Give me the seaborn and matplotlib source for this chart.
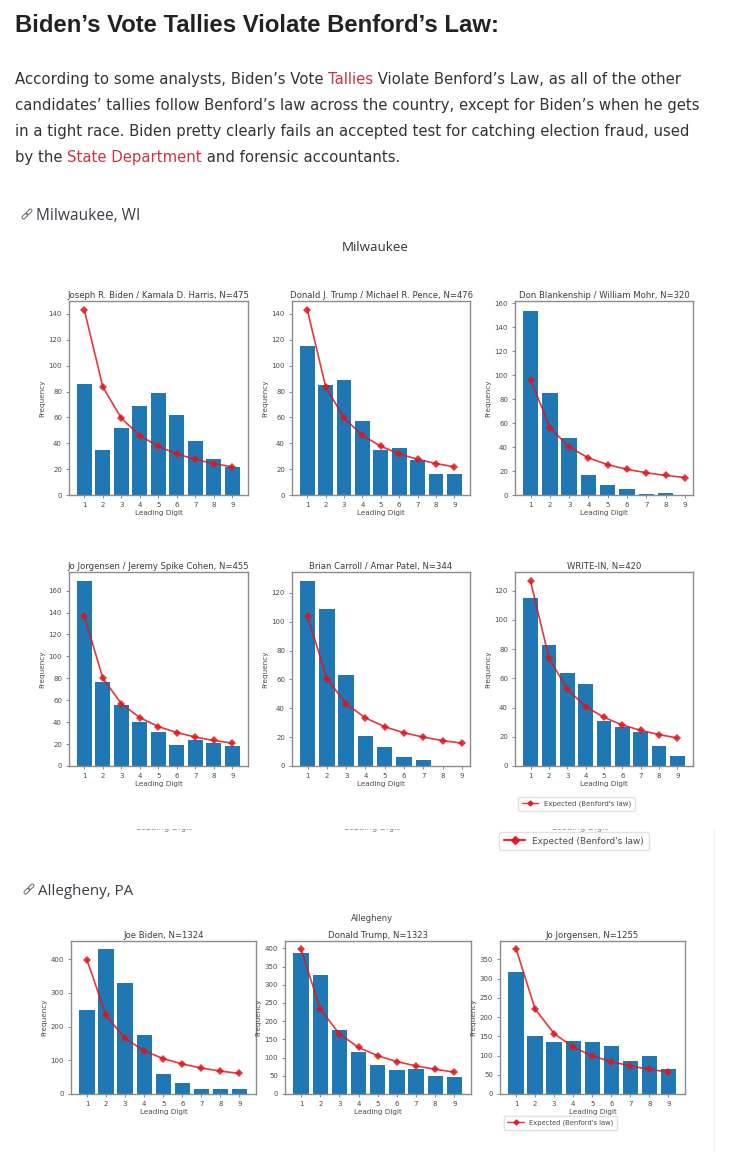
import matplotlib
matplotlib.use("Agg")
import matplotlib.pyplot as plt
import seaborn as sns
from matplotlib.lines import Line2D
from matplotlib.patches import FancyBboxPatch
from matplotlib.transforms import Bbox, Affine2D

WIDTH, HEIGHT = 730, 1162

digits = [1, 2, 3, 4, 5, 6, 7, 8, 9]

# Milwaukee
biden_wi = [86, 35, 52, 69, 79, 62, 42, 28, 22]
biden_wi_exp = [143, 83.6, 59.3, 46, 37.6, 31.8, 27.5, 24.3, 21.7]
trump_wi = [115, 85, 89, 57, 35, 36, 27, 16, 16]
trump_wi_exp = [143.3, 83.8, 59.5, 46.1, 37.7, 31.8, 27.6, 24.3, 21.8]
blankenship_wi = [154, 85, 48, 17, 8, 5, 1, 2, 0]
blankenship_wi_exp = [96.3, 56.3, 40, 31, 25.3, 21.4, 18.6, 16.3, 14.6]
jorgensen_wi = [169, 77, 56, 40, 31, 19, 24, 21, 18]
jorgensen_wi_exp = [137, 80.1, 56.9, 44.1, 36, 30.5, 26.4, 23.3, 20.8]
carroll_wi = [128, 109, 63, 21, 13, 6, 4, 0, 0]
carroll_wi_exp = [103.6, 60.6, 43, 33.3, 27.2, 23, 20, 17.6, 15.8]
writein_wi = [115, 83, 64, 56, 31, 27, 23, 14, 7]
writein_wi_exp = [126.4, 74, 52.5, 40.7, 33.3, 28.1, 24.4, 21.5, 19.2]

# Allegheny
biden_pa = [249, 430, 328, 174, 59, 33, 15, 15, 15]
biden_pa_exp = [398, 233, 165, 128, 105, 89, 77, 68, 61]
trump_pa = [388, 326, 175, 116, 80, 66, 70, 50, 48]
trump_pa_exp = [398, 233, 165, 128, 105, 89, 77, 68, 60]
jorgensen_pa = [316, 150, 135, 137, 135, 125, 86, 99, 66]
jorgensen_pa_exp = [378, 221, 157, 122, 99, 84, 73, 64, 57]

titles = [
    "Joseph R. Biden / Kamala D. Harris, N=475",
    "Donald J. Trump / Michael R. Pence, N=476",
    "Don Blankenship / William Mohr, N=320",
    "Jo Jorgensen / Jeremy Spike Cohen, N=455",
    "Brian Carroll / Amar Patel, N=344",
    "WRITE-IN, N=420",
    "Joe Biden, N=1324",
    "Donald Trump, N=1323",
    "Jo Jorgensen, N=1255",
]
observed = [biden_wi, trump_wi, blankenship_wi, jorgensen_wi, carroll_wi,
            writein_wi, biden_pa, trump_pa, jorgensen_pa]
expected = [biden_wi_exp, trump_wi_exp, blankenship_wi_exp, jorgensen_wi_exp,
            carroll_wi_exp, writein_wi_exp, biden_pa_exp, trump_pa_exp,
            jorgensen_pa_exp]
y_tops = [150, 150, 162, 177, 134.4, 132.8, 454, 420, 397.6]
y_steps = [20, 20, 20, 20, 20, 20, 100, 50, 50]

# panel boxes in pixels: left, top, right, bottom
boxes = [
    (69, 301, 248, 495), (292, 301, 470, 495), (515, 301, 693, 495),
    (69, 572, 248, 766), (292, 572, 470, 766), (515, 572, 693, 766),
    (71, 941, 256, 1094), (285, 941, 471, 1094), (500, 941, 685, 1094),
]
x_lims = [(0.17, 9.85), (0.17, 9.85), (0.19, 9.42), (0.17, 9.85), (0.19, 9.42),
          (0.15, 9.85), (0.16, 9.87), (0.16, 9.87), (0.16, 9.87)]

BLUE = "#1f77b4"
RED = "#e0141c"
INK = "#4a4a4a"
LABEL = "Expected (Benford's law)"

sns.set_theme(style="white", rc={"axes.edgecolor": "#8c8c8c", "axes.linewidth": 1.0,
                                 "xtick.bottom": True, "ytick.left": True,
                                 "xtick.color": INK, "ytick.color": INK})
plt.rcParams["font.family"] = ["DejaVu Sans"]

fig = plt.figure(figsize=(WIDTH / 100, HEIGHT / 100), dpi=100, facecolor="white")

# full page overlay, in pixel coordinates
page = fig.add_axes([0, 0, 1, 1], zorder=0)
page.set_xlim(0, WIDTH)
page.set_ylim(HEIGHT, 0)
page.axis("off")


def write_runs(x, y, runs, **kw):
    # draws coloured pieces of one line next to each other
    renderer = fig.canvas.get_renderer()
    for text, color in runs:
        t = page.text(x, y, text, color=color, va="baseline", ha="left", **kw)
        x = t.get_window_extent(renderer).x1


def link_icon(cx, cy):
    rot = Affine2D().rotate_deg_around(cx, cy, -45)
    for dx in (-3.0, 3.0):
        p = FancyBboxPatch((cx + dx - 3.4, cy - 1.6), 6.8, 3.2,
                           boxstyle="round,pad=0,rounding_size=1.6",
                           fill=False, ec="#666666", lw=0.7,
                           transform=rot + page.transData)
        page.add_patch(p)


page.text(15, 32.5, "Biden\u2019s Vote Tallies Violate Benford\u2019s Law:", fontsize=17.2,
          fontweight="bold", family="Liberation Sans", color="#222222")

body = "#333333"
link = "#cc3344"
para = dict(fontsize=10.68, family="DejaVu Sans")
write_runs(15, 84, [("According to some analysts, Biden\u2019s Vote ", body), ("Tallies", link),
                    (" Violate Benford\u2019s Law, as all of the other", body)], **para)
write_runs(15, 110, [("candidates\u2019 tallies follow Benford\u2019s law across the country, except for Biden\u2019s when he gets", body)], **para)
write_runs(15, 136, [("in a tight race. Biden pretty clearly fails an accepted test for catching election fraud, used", body)], **para)
write_runs(15, 162, [("by the ", body), ("State Department", link), (" and forensic accountants.", body)], **para)

page.text(36, 220, "Milwaukee, WI", fontsize=11.2, family="Open Sans", color="#3a3f45")
page.text(38, 895, "Allegheny, PA", fontsize=10.9, family="Open Sans", color="#3a3f45")
link_icon(27, 214)
link_icon(29, 889)

page.text(375, 251, "Milwaukee", fontsize=9.6, ha="center", color="#333333", family="Open Sans")
page.text(372, 921, "Allegheny", fontsize=6.0, ha="center", color="#444444")

# page edge of the pasted screenshots
page.plot([714, 714], [830, 1150], color="#efefef", lw=1)

# x labels of a lower screenshot, cut off at the seam
clip = Bbox.from_extents(0, HEIGHT - 832, WIDTH, HEIGHT - 829)
for cx in (164, 372, 580):
    t = page.text(cx, 830, "Leading Digit", fontsize=6, ha="center", va="baseline",
                  color="#888888")
    t.set_clip_on(True)
    t.set_clip_box(clip)

handle_small = Line2D([], [], color=RED, marker="D", markersize=2.6, lw=1.0, alpha=0.85)
handle_big = Line2D([], [], color=RED, marker="D", markersize=4, lw=1.6, alpha=0.9)


def page_legend(handle, x0, y0, x1, y1, size):
    leg = page.legend([handle], [LABEL], loc="center", frameon=True, fontsize=size,
                      bbox_to_anchor=((x0 + x1) / 2 / WIDTH, 1 - (y0 + y1) / 2 / HEIGHT),
                      bbox_transform=fig.transFigure, labelcolor=INK,
                      edgecolor="#e2e2e2", fancybox=True, framealpha=1,
                      handlelength=2.4, borderpad=0.5, handletextpad=0.8)
    page.add_artist(leg)


page_legend(handle_small, 519, 798, 634, 810, 5.0)
page_legend(handle_big, 500, 832, 648, 850, 6.4)
page_legend(handle_small, 504, 1117, 617, 1129, 4.9)

for i, title in enumerate(titles):
    left, top, right, bottom = boxes[i]
    ax = fig.add_axes([left / WIDTH, 1 - bottom / HEIGHT,
                       (right - left) / WIDTH, (bottom - top) / HEIGHT], zorder=2)
    sns.barplot(x=digits, y=observed[i], native_scale=True, color=BLUE, saturation=1,
                width=0.8, linewidth=0, ax=ax)
    sns.lineplot(x=digits, y=expected[i], color=RED, marker="D", markersize=3.6,
                 markeredgewidth=0, linewidth=1.2, alpha=0.85, ax=ax)
    ax.set_xlim(*x_lims[i])
    ax.set_ylim(0, y_tops[i])
    ax.set_xticks(digits)
    ax.set_xticklabels([str(d) for d in digits])
    ax.set_yticks(range(0, int(y_tops[i]) + 1, y_steps[i]))
    ax.tick_params(labelsize=5, length=2, width=0.6, pad=3, color="#777777")
    ax.set_xlabel("Leading Digit", fontsize=5.2, color=INK, labelpad=1.5)
    ax.set_ylabel("Frequency", fontsize=5.2, color=INK, labelpad=2.5)
    ax.set_title(title, fontsize=6.15, color="#3c3c3c", pad=2.5)

fig.savefig("out.png", dpi=100, facecolor="white")
